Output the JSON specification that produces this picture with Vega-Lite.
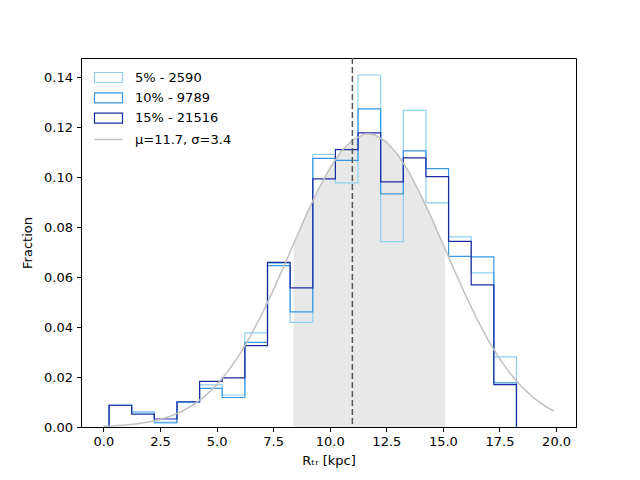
{
  "$schema": "https://vega.github.io/schema/vega-lite/v6.json",
  "autosize": {"type": "none"},
  "width": 495,
  "height": 369,
  "padding": {"left": 81, "top": 58, "right": 64, "bottom": 53},
  "background": "white",
  "config": {
    "font": "DejaVu Sans",
    "view": {"stroke": "black", "strokeWidth": 1},
    "axis": {
      "grid": false,
      "domainColor": "black",
      "tickColor": "black",
      "tickSize": 4.5,
      "labelPadding": 4,
      "labelFontSize": 13,
      "labelColor": "black",
      "titleFontSize": 13,
      "titleFontWeight": "normal",
      "titleColor": "black"
    },
    "legend": {
      "orient": "none",
      "padding": 0,
      "labelFontSize": 13,
      "labelColor": "black",
      "title": null
    }
  },
  "datasets": {
    "hist": [
      {"s": "5% - 2590", "i": 0, "x": 0.25, "y": 0},
      {"s": "5% - 2590", "i": 1, "x": 0.25, "y": 0.0087},
      {"s": "5% - 2590", "i": 2, "x": 1.25, "y": 0.0062},
      {"s": "5% - 2590", "i": 3, "x": 2.25, "y": 0.0015},
      {"s": "5% - 2590", "i": 4, "x": 3.25, "y": 0.0098},
      {"s": "5% - 2590", "i": 5, "x": 4.25, "y": 0.0169},
      {"s": "5% - 2590", "i": 6, "x": 5.25, "y": 0.0128},
      {"s": "5% - 2590", "i": 7, "x": 6.25, "y": 0.0377},
      {"s": "5% - 2590", "i": 8, "x": 7.25, "y": 0.0655},
      {"s": "5% - 2590", "i": 9, "x": 8.25, "y": 0.0419},
      {"s": "5% - 2590", "i": 10, "x": 9.25, "y": 0.1091},
      {"s": "5% - 2590", "i": 11, "x": 10.25, "y": 0.0977},
      {"s": "5% - 2590", "i": 12, "x": 11.25, "y": 0.1409},
      {"s": "5% - 2590", "i": 13, "x": 12.25, "y": 0.0742},
      {"s": "5% - 2590", "i": 14, "x": 13.25, "y": 0.1267},
      {"s": "5% - 2590", "i": 15, "x": 14.25, "y": 0.0897},
      {"s": "5% - 2590", "i": 16, "x": 15.25, "y": 0.0761},
      {"s": "5% - 2590", "i": 17, "x": 16.25, "y": 0.0617},
      {"s": "5% - 2590", "i": 18, "x": 17.25, "y": 0.0281},
      {"s": "5% - 2590", "i": 19, "x": 18.25, "y": 0},
      {"s": "10% - 9789", "i": 0, "x": 0.25, "y": 0},
      {"s": "10% - 9789", "i": 1, "x": 0.25, "y": 0.0087},
      {"s": "10% - 9789", "i": 2, "x": 1.25, "y": 0.0056},
      {"s": "10% - 9789", "i": 3, "x": 2.25, "y": 0.0019},
      {"s": "10% - 9789", "i": 4, "x": 3.25, "y": 0.0099},
      {"s": "10% - 9789", "i": 5, "x": 4.25, "y": 0.0155},
      {"s": "10% - 9789", "i": 6, "x": 5.25, "y": 0.0118},
      {"s": "10% - 9789", "i": 7, "x": 6.25, "y": 0.0339},
      {"s": "10% - 9789", "i": 8, "x": 7.25, "y": 0.0646},
      {"s": "10% - 9789", "i": 9, "x": 8.25, "y": 0.0461},
      {"s": "10% - 9789", "i": 10, "x": 9.25, "y": 0.1075},
      {"s": "10% - 9789", "i": 11, "x": 10.25, "y": 0.1067},
      {"s": "10% - 9789", "i": 12, "x": 11.25, "y": 0.1273},
      {"s": "10% - 9789", "i": 13, "x": 12.25, "y": 0.0933},
      {"s": "10% - 9789", "i": 14, "x": 13.25, "y": 0.1105},
      {"s": "10% - 9789", "i": 15, "x": 14.25, "y": 0.1034},
      {"s": "10% - 9789", "i": 16, "x": 15.25, "y": 0.0683},
      {"s": "10% - 9789", "i": 17, "x": 16.25, "y": 0.0681},
      {"s": "10% - 9789", "i": 18, "x": 17.25, "y": 0.0177},
      {"s": "10% - 9789", "i": 19, "x": 18.25, "y": 0},
      {"s": "15% - 21516", "i": 0, "x": 0.25, "y": 0},
      {"s": "15% - 21516", "i": 1, "x": 0.25, "y": 0.0087},
      {"s": "15% - 21516", "i": 2, "x": 1.25, "y": 0.0051},
      {"s": "15% - 21516", "i": 3, "x": 2.25, "y": 0.0032},
      {"s": "15% - 21516", "i": 4, "x": 3.25, "y": 0.0101},
      {"s": "15% - 21516", "i": 5, "x": 4.25, "y": 0.0183},
      {"s": "15% - 21516", "i": 6, "x": 5.25, "y": 0.0197},
      {"s": "15% - 21516", "i": 7, "x": 6.25, "y": 0.0326},
      {"s": "15% - 21516", "i": 8, "x": 7.25, "y": 0.0659},
      {"s": "15% - 21516", "i": 9, "x": 8.25, "y": 0.0557},
      {"s": "15% - 21516", "i": 10, "x": 9.25, "y": 0.0993},
      {"s": "15% - 21516", "i": 11, "x": 10.25, "y": 0.1110},
      {"s": "15% - 21516", "i": 12, "x": 11.25, "y": 0.1177},
      {"s": "15% - 21516", "i": 13, "x": 12.25, "y": 0.0981},
      {"s": "15% - 21516", "i": 14, "x": 13.25, "y": 0.1077},
      {"s": "15% - 21516", "i": 15, "x": 14.25, "y": 0.1002},
      {"s": "15% - 21516", "i": 16, "x": 15.25, "y": 0.0743},
      {"s": "15% - 21516", "i": 17, "x": 16.25, "y": 0.0569},
      {"s": "15% - 21516", "i": 18, "x": 17.25, "y": 0.0170},
      {"s": "15% - 21516", "i": 19, "x": 18.25, "y": 0}
    ],
    "gauss": [
      {"x": 0, "y": 0.000315},
      {"x": 0.5, "y": 0.000517},
      {"x": 1, "y": 0.000829},
      {"x": 1.5, "y": 0.001304},
      {"x": 2, "y": 0.002004},
      {"x": 2.5, "y": 0.003017},
      {"x": 3, "y": 0.004443},
      {"x": 3.5, "y": 0.006404},
      {"x": 4, "y": 0.009032},
      {"x": 4.5, "y": 0.012464},
      {"x": 5, "y": 0.016837},
      {"x": 5.5, "y": 0.022255},
      {"x": 6, "y": 0.028784},
      {"x": 6.5, "y": 0.036431},
      {"x": 7, "y": 0.045133},
      {"x": 7.5, "y": 0.054712},
      {"x": 8, "y": 0.064907},
      {"x": 8.4, "y": 0.073264},
      {"x": 8.5, "y": 0.075352},
      {"x": 9, "y": 0.085605},
      {"x": 9.5, "y": 0.095179},
      {"x": 10, "y": 0.103553},
      {"x": 10.5, "y": 0.110254},
      {"x": 11, "y": 0.114879},
      {"x": 11.5, "y": 0.117137},
      {"x": 11.7, "y": 0.11734},
      {"x": 12, "y": 0.116884},
      {"x": 12.5, "y": 0.114137},
      {"x": 13, "y": 0.109069},
      {"x": 13.5, "y": 0.101996},
      {"x": 14, "y": 0.093343},
      {"x": 14.5, "y": 0.083593},
      {"x": 15, "y": 0.073264},
      {"x": 15.1, "y": 0.07117},
      {"x": 15.5, "y": 0.062836},
      {"x": 16, "y": 0.052738},
      {"x": 16.5, "y": 0.043316},
      {"x": 17, "y": 0.034816},
      {"x": 17.5, "y": 0.027387},
      {"x": 18, "y": 0.021083},
      {"x": 18.5, "y": 0.015881},
      {"x": 19, "y": 0.011707},
      {"x": 19.5, "y": 0.008445},
      {"x": 19.9, "y": 0.006404}
    ]
  },
  "encoding": {
    "x": {
      "field": "x",
      "type": "quantitative",
      "scale": {"domain": [-0.99, 20.88], "nice": false, "zero": false},
      "axis": {
        "title": "Rₜᵣ [kpc]",
        "values": [0, 2.5, 5, 7.5, 10, 12.5, 15, 17.5, 20],
        "format": ".1f",
        "titlePadding": 6
      }
    },
    "y": {
      "field": "y",
      "type": "quantitative",
      "scale": {"domain": [0, 0.1477], "nice": false},
      "axis": {
        "title": "Fraction",
        "values": [0, 0.02, 0.04, 0.06, 0.08, 0.1, 0.12, 0.14],
        "format": ".2f",
        "titlePadding": 9
      }
    }
  },
  "layer": [
    {
      "data": {"name": "gauss"},
      "transform": [{"filter": "datum.x >= 8.4 && datum.x <= 15.1"}],
      "mark": {"type": "area", "color": "#e8e8e8", "opacity": 1}
    },
    {
      "data": {"name": "hist"},
      "mark": {"type": "line", "interpolate": "step-after", "strokeWidth": 1.2},
      "encoding": {
        "order": {"field": "i", "type": "quantitative"},
        "color": {
          "field": "s",
          "type": "nominal",
          "scale": {
            "domain": ["5% - 2590", "10% - 9789", "15% - 21516"],
            "range": ["#8fd0ee", "#3a96e0", "#1c2aa0"]
          },
          "legend": {
            "legendX": 21,
            "legendY": 13,
            "symbolType": "M-2.8,-1H2.8V1H-2.8Z",
            "symbolSize": 100,
            "symbolStrokeWidth": 1.2,
            "symbolFillColor": "transparent",
            "labelOffset": 20,
            "rowPadding": 5.3
          }
        }
      }
    },
    {
      "data": {"name": "gauss"},
      "mark": {"type": "line", "strokeWidth": 1.5},
      "encoding": {
        "color": {
          "datum": "μ=11.7, σ=3.4",
          "type": "nominal",
          "scale": {"range": ["#c0c0c0"]},
          "legend": {
            "legendX": 21,
            "legendY": 75,
            "symbolType": "M-2.8,0H2.8",
            "symbolSize": 100,
            "symbolStrokeWidth": 1.5,
            "labelOffset": 20
          }
        }
      }
    },
    {
      "data": {"values": [{"v": 11}]},
      "mark": {"type": "rule", "color": "#555555", "strokeWidth": 1.5, "strokeDash": [6, 3]},
      "encoding": {
        "x": {"field": "v", "type": "quantitative"},
        "y": {"value": 0},
        "y2": {"value": 369}
      }
    }
  ],
  "resolve": {"scale": {"color": "independent"}, "legend": {"color": "independent"}}
}
